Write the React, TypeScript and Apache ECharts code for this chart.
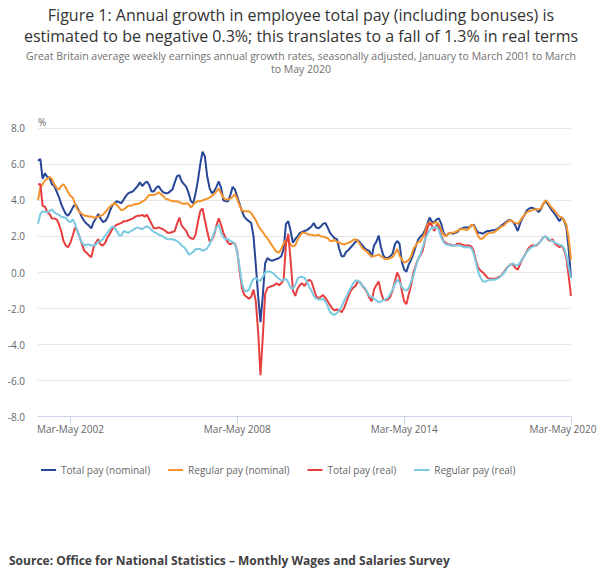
import React, { useEffect, useRef } from "react";
import * as echarts from "echarts";

const MONTHS = ["Jan", "Feb", "Mar", "Apr", "May", "Jun", "Jul", "Aug", "Sep", "Oct", "Nov", "Dec"];
const START_YEAR = 2001;
const PERIOD_COUNT = 231;
// Rolling three-month periods: Jan-Mar 2001 ... Mar-May 2020
const categories: string[] = Array.from({ length: PERIOD_COUNT }, (_, i) =>
  `${MONTHS[i % 12]}-${MONTHS[(i + 2) % 12]} ${START_YEAR + Math.floor((i + 2) / 12)}`
);

const seriesNames = ["Total pay (nominal)", "Regular pay (nominal)", "Total pay (real)", "Regular pay (real)"];
const seriesColors = ["#274796", "#F5942D", "#E73F40", "#7BCAE2"];

const totalNominal = [
  6.2, 6.3, 5.2, 5.5, 5.3, 5.25, 4.9, 4.8, 4.5, 4.2,
  3.8, 3.5, 3.25, 3.15, 3.35, 3.6, 3.8, 3.6, 3.35, 3.05,
  2.85, 2.7, 2.6, 2.45, 2.8, 3.0, 3.25, 3.0, 2.8, 2.85,
  3.05, 3.4, 3.7, 3.85, 3.95, 3.9, 3.85, 4.05, 4.25, 4.4,
  4.45, 4.5, 4.65, 4.8, 5.0, 4.8, 4.95, 5.05, 4.85, 4.5,
  4.5, 4.7, 4.8, 4.6, 4.45, 4.4, 4.4, 4.5, 4.6, 5.0,
  5.35, 5.4, 5.05, 4.9, 4.75, 4.4, 3.95, 3.85, 4.4, 5.1,
  6.0, 6.7, 6.45, 5.35, 4.7, 4.4, 4.5, 4.75, 5.05, 4.7,
  4.0, 3.95, 3.95, 4.3, 4.75, 4.6, 4.2, 3.8, 3.4, 3.1,
  2.95, 2.85, 2.75, 2.0, 0.4, -1.3, -2.75, -1.3, 0.5, 0.8,
  0.7, 0.65, 0.7, 0.75, 0.8, 0.9, 1.3, 2.7, 2.85, 2.3,
  1.65, 1.85, 2.0, 2.2, 2.25, 2.3, 2.35, 2.45, 2.55, 2.75,
  2.5, 2.45, 2.55, 2.7, 2.75, 2.5, 2.2, 2.05, 1.9, 1.85,
  1.3, 0.9, 0.9, 1.15, 1.25, 1.4, 1.55, 1.7, 1.8, 1.65,
  1.5, 1.35, 1.25, 1.2, 0.85, 1.5, 1.7, 2.05, 1.4, 0.95,
  0.8, 0.8, 0.9, 1.05, 1.55, 1.75, 1.6, 0.6, 0.15, 0.05,
  0.45, 0.7, 1.05, 1.45, 1.8, 2.0, 2.1, 2.35, 2.7, 3.05,
  2.8, 2.8, 2.95, 3.0, 2.7, 2.2, 2.0, 2.15, 2.2, 2.15,
  2.2, 2.25, 2.4, 2.45, 2.5, 2.5, 2.5, 2.6, 2.65, 2.4,
  2.2, 2.2, 2.15, 2.25, 2.3, 2.3, 2.35, 2.35, 2.4, 2.5,
  2.6, 2.7, 2.8, 2.9, 2.9, 2.8, 2.6, 2.3, 2.7, 3.0,
  3.2, 3.45, 3.55, 3.6, 3.55, 3.5, 3.35, 3.5, 3.8, 3.95,
  3.8, 3.6, 3.4, 3.25, 3.05, 2.85, 3.05, 2.9, 2.5, 1.3,
  -0.3,
];

const regularNominal = [
  4.0, 4.7, 4.9, 5.1, 5.2, 5.3, 5.2, 4.9, 4.7, 4.6,
  4.8, 4.9, 4.7, 4.45, 4.25, 4.15, 3.8, 3.5, 3.35, 3.25,
  3.15, 3.15, 3.1, 3.1, 3.05, 3.05, 3.1, 3.15, 3.2, 3.35,
  3.5, 3.65, 3.75, 3.85, 3.75, 3.6, 3.45, 3.5, 3.6, 3.7,
  3.7, 3.75, 3.8, 3.8, 3.85, 3.95, 4.0, 4.15, 4.3, 4.3,
  4.3, 4.35, 4.45, 4.35, 4.25, 4.1, 4.05, 4.0, 3.95, 3.95,
  3.95, 3.9, 3.85, 3.8, 3.85, 3.8, 3.6, 3.75, 3.9, 3.95,
  3.95, 4.0, 4.05, 4.1, 4.15, 4.25, 4.35, 4.5, 4.65, 4.4,
  4.15, 4.05, 4.05, 4.1, 4.2, 4.35, 4.05, 3.7, 3.45, 3.4,
  3.4, 3.4, 3.3, 3.1, 2.9, 2.6, 2.4, 2.25, 2.05, 1.9,
  1.7, 1.5, 1.3, 1.15, 1.1, 1.3, 1.6, 1.8, 1.75, 1.55,
  1.45, 1.5, 1.8, 2.05, 2.2, 2.2, 2.15, 2.1, 2.1, 2.05,
  2.05, 2.1, 2.0, 2.0, 1.95, 1.9, 1.75, 1.75, 1.8, 1.7,
  1.65, 1.6, 1.55, 1.6, 1.65, 1.7, 1.8, 1.85, 1.75, 1.55,
  1.35, 1.25, 1.15, 1.0, 0.9, 0.9, 0.95, 1.0, 0.9, 0.8,
  0.75, 0.75, 0.8, 0.85, 1.05, 1.3, 0.95, 0.7, 0.55, 0.6,
  0.7, 0.9, 1.3, 1.5, 1.7, 1.7, 1.95, 2.2, 2.65, 2.8,
  2.7, 2.75, 2.8, 2.65, 2.35, 2.1, 2.0, 2.15, 2.2, 2.2,
  2.25, 2.3, 2.4, 2.4, 2.4, 2.35, 2.45, 2.65, 2.6, 2.3,
  2.0, 1.85, 1.9, 2.05, 2.15, 2.2, 2.2, 2.25, 2.35, 2.45,
  2.55, 2.6, 2.75, 2.85, 2.9, 2.8, 2.75, 2.7, 2.85, 3.05,
  3.2, 3.35, 3.4, 3.45, 3.5, 3.5, 3.5, 3.55, 3.8, 4.0,
  3.9, 3.7, 3.55, 3.4, 3.25, 3.1, 3.05, 2.9, 2.65, 1.9,
  0.7,
];

const totalReal = [
  4.9, 4.9, 3.7, 3.65, 3.35, 3.25, 3.0, 3.0, 2.95, 2.7,
  2.3, 1.75, 1.5, 1.4, 1.65, 2.05, 2.5, 2.3, 1.95, 1.55,
  1.2, 1.1, 0.95, 0.85, 1.4, 1.65, 1.85, 1.55, 1.5, 1.65,
  1.95, 2.15, 2.4, 2.55, 2.65, 2.7, 2.75, 2.85, 2.85, 2.9,
  2.95, 3.0, 3.1, 3.15, 3.15, 3.2, 3.1, 3.2, 2.95, 2.7,
  2.45, 2.45, 2.5, 2.45, 2.4, 2.3, 2.2, 2.2, 2.25, 2.3,
  2.7, 3.05, 2.6, 2.45, 2.3, 2.0, 1.9, 1.85, 2.1, 2.8,
  3.4, 3.55, 2.9, 2.3, 1.75, 1.8, 2.1, 2.6, 3.0, 2.65,
  2.2, 1.9, 1.65, 1.55, 1.65, 1.6, 1.15, 0.1, -0.85, -1.25,
  -1.35, -1.45, -1.35, -0.95, -1.6, -3.3, -5.7, -3.6, -1.2, -0.85,
  -0.8, -0.75, -0.7, -0.6, -0.7, -0.6, -0.4, 1.6, 2.15, 0.7,
  -1.0, -1.3, -0.9, -0.7, -0.6, -0.75, -0.55, -0.4, -0.5, -0.9,
  -1.3, -1.45, -1.35, -1.25, -1.4, -1.6, -1.8, -2.0, -2.1, -2.05,
  -2.1, -2.2, -2.0, -1.65, -1.3, -1.0, -0.85, -0.75, -0.5, -0.55,
  -0.75, -0.9, -1.1, -1.4, -1.6, -0.95, -0.7, -0.5, -1.1, -1.5,
  -1.55, -1.5, -1.35, -1.0, -0.5, 0.0, -0.3, -1.0, -1.6, -1.75,
  -1.2, -0.7, 0.0, 0.4, 0.75, 0.95, 1.2, 1.8, 2.45, 2.75,
  2.6, 2.3, 2.65, 2.5, 2.05, 1.75, 1.65, 1.55, 1.55, 1.5,
  1.5, 1.6, 1.6, 1.55, 1.5, 1.5, 1.5, 1.45, 1.2, 0.65,
  0.25, 0.1, 0.0, -0.15, -0.3, -0.35, -0.35, -0.35, -0.3, -0.25,
  -0.15, 0.0, 0.2, 0.35, 0.45, 0.45, 0.25, 0.15, 0.45, 0.75,
  0.95, 1.2, 1.4, 1.5, 1.5, 1.5, 1.6, 1.75, 1.95, 2.0,
  1.85, 1.75, 1.85, 1.6, 1.5, 1.4, 1.5, 1.25, 0.8, -0.2,
  -1.3,
];

const regularReal = [
  2.7, 3.25, 3.4, 3.35, 3.35, 3.4, 3.5, 3.35, 3.25, 3.2,
  3.1, 3.05, 3.05, 2.85, 2.8, 2.95, 2.7, 2.3, 1.95, 1.65,
  1.5, 1.55, 1.55, 1.5, 1.5, 1.55, 1.7, 1.75, 1.85, 2.05,
  2.2, 2.4, 2.55, 2.5, 2.3, 2.05, 2.05, 2.3, 2.25, 2.2,
  2.3, 2.35, 2.45, 2.5, 2.45, 2.4, 2.5, 2.55, 2.5, 2.35,
  2.25, 2.2, 2.1, 2.05, 2.0, 1.9, 1.85, 1.85, 1.85, 1.8,
  1.75, 1.65, 1.5, 1.4, 1.25, 1.0, 1.05, 1.15, 1.3, 1.3,
  1.3, 1.2, 1.25, 1.35, 1.55, 1.85, 2.2, 2.5, 2.65, 2.2,
  1.95, 1.85, 1.85, 1.75, 1.7, 1.55, 1.1, 0.3, -0.6, -1.0,
  -1.05, -0.95, -0.6, -0.35, -0.3, -0.45, -0.45, -0.25, 0.0, 0.05,
  0.05, 0.0, -0.1, -0.25, -0.35, -0.45, -0.4, -0.35, -0.55, -0.85,
  -0.9, -0.7, -0.35, -0.25, -0.25, -0.3, -0.5, -0.8, -1.0, -1.3,
  -1.45, -1.5, -1.5, -1.45, -1.6, -1.85, -2.2, -2.3, -2.35, -2.25,
  -2.1, -1.9, -1.6, -1.35, -1.1, -0.85, -0.6, -0.45, -0.45, -0.55,
  -0.75, -0.85, -1.05, -1.3, -1.35, -1.45, -1.55, -1.65, -1.6, -1.55,
  -1.5, -1.4, -1.2, -0.95, -0.65, -0.4, -0.55, -0.8, -0.95, -1.0,
  -0.85, -0.5, -0.2, 0.3, 0.75, 1.0, 1.4, 1.85, 2.1, 2.35,
  2.5, 2.45, 2.55, 2.35, 1.95, 1.7, 1.55, 1.55, 1.5, 1.5,
  1.5, 1.5, 1.5, 1.45, 1.4, 1.4, 1.4, 1.35, 1.05, 0.55,
  0.0, -0.3, -0.5, -0.5, -0.45, -0.4, -0.4, -0.4, -0.35, -0.3,
  -0.15, -0.05, 0.15, 0.35, 0.45, 0.5, 0.4, 0.4, 0.55, 0.75,
  0.95, 1.15, 1.3, 1.4, 1.45, 1.55, 1.6, 1.75, 1.95, 2.0,
  1.9, 1.8, 1.75, 1.65, 1.6, 1.55, 1.5, 1.35, 0.95, 0.3,
  -0.3,
];

const seriesData = [totalNominal, regularNominal, totalReal, regularReal];

const yTicks = { min: -8, max: 8, interval: 2 };
const FIRST_LABEL_INDEX = 14; // Mar-May 2002
const LABEL_STEP = 72; // every six years

const TITLE =
  "Figure 1: Annual growth in employee total pay (including bonuses) is\nestimated to be negative 0.3%; this translates to a fall of 1.3% in real terms";
const SUBTITLE =
  "Great Britain average weekly earnings annual growth rates, seasonally adjusted, January to March 2001 to March\nto May 2020";
const SOURCE = "Source: Office for National Statistics \u2013 Monthly Wages and Salaries Survey";

const FONT = "'Open Sans', 'Noto Sans', sans-serif";

export default function App() {
  const ref = useRef<HTMLDivElement>(null);

  useEffect(() => {
    if (!ref.current) return;
    const chart = echarts.init(ref.current, undefined, { renderer: "svg" });
    const showAt = (idx: number) => idx >= FIRST_LABEL_INDEX && (idx - FIRST_LABEL_INDEX) % LABEL_STEP === 0;
    const lastIdx = categories.length - 1;

    chart.setOption({
      animation: false,
      backgroundColor: "#ffffff",
      textStyle: { fontFamily: FONT },
      title: [
        {
          text: TITLE,
          left: "center",
          top: 5,
          padding: [0, 0, 0, 0],
          textStyle: { fontFamily: FONT, fontSize: 16, fontWeight: "normal", color: "#333333", lineHeight: 20.5 },
        },
        {
          text: SUBTITLE,
          left: "center",
          top: 49.5,
          padding: [0, 0, 0, 0],
          textStyle: { fontFamily: FONT, fontSize: 10.5, fontWeight: "normal", color: "#707070", lineHeight: 13 },
        },
      ],
      legend: {
        data: seriesNames,
        left: 41,
        top: 465,
        padding: 0,
        icon: "rect",
        itemWidth: 15,
        itemHeight: 2,
        itemGap: 18,
        textStyle: { fontFamily: FONT, fontSize: 10, color: "#666666" },
      },
      grid: { left: 38, right: 31, top: 128.3, bottom: 169.3, containLabel: false },
      xAxis: {
        type: "category",
        data: categories,
        boundaryGap: false,
        axisLine: { onZero: false, lineStyle: { color: "#ccd6eb", width: 1 } },
        axisTick: { show: true, length: 8, interval: (idx: number) => showAt(idx), lineStyle: { color: "#ccd6eb" } },
        axisLabel: {
          interval: (idx: number) => showAt(idx),
          margin: 7.5,
          fontFamily: FONT,
          fontSize: 10,
          color: "#666666",
          formatter: (value: string, idx: number) => (idx === lastIdx ? `{last|${value}}` : value),
          rich: {
            last: { fontFamily: FONT, fontSize: 10, color: "#666666", padding: [0, 16, 0, 0] },
          },
        },
        splitLine: { show: false },
      },
      yAxis: {
        type: "value",
        min: yTicks.min,
        max: yTicks.max,
        interval: yTicks.interval,
        name: "%",
        nameLocation: "end",
        nameGap: 1,
        nameTextStyle: { fontFamily: FONT, fontSize: 10, color: "#666666", align: "left" },
        axisLine: { show: false },
        axisTick: { show: false },
        axisLabel: {
          margin: 13,
          fontFamily: FONT,
          fontSize: 10,
          color: "#666666",
          formatter: (v: number) => v.toFixed(1),
        },
        splitLine: { lineStyle: { color: "#e6e6e6", width: 1 } },
      },
      series: seriesNames.map((name, k) => ({
        name,
        type: "line",
        data: seriesData[k],
        showSymbol: false,
        symbol: "none",
        color: seriesColors[k],
        lineStyle: { color: seriesColors[k], width: 2 },
        emphasis: { disabled: true },
      })),
      graphic: [
        {
          type: "text",
          left: 9,
          top: 554,
          style: {
            text: SOURCE,
            fontFamily: FONT,
            fontSize: 12,
            fontWeight: "bold",
            fill: "#414042",
          },
        },
      ],
    });

    return () => chart.dispose();
  }, []);

  return (
    <div
      ref={ref}
      style={{ position: "absolute", left: 0, top: 0, width: 602, height: 586, background: "#fff" }}
    />
  );
}
